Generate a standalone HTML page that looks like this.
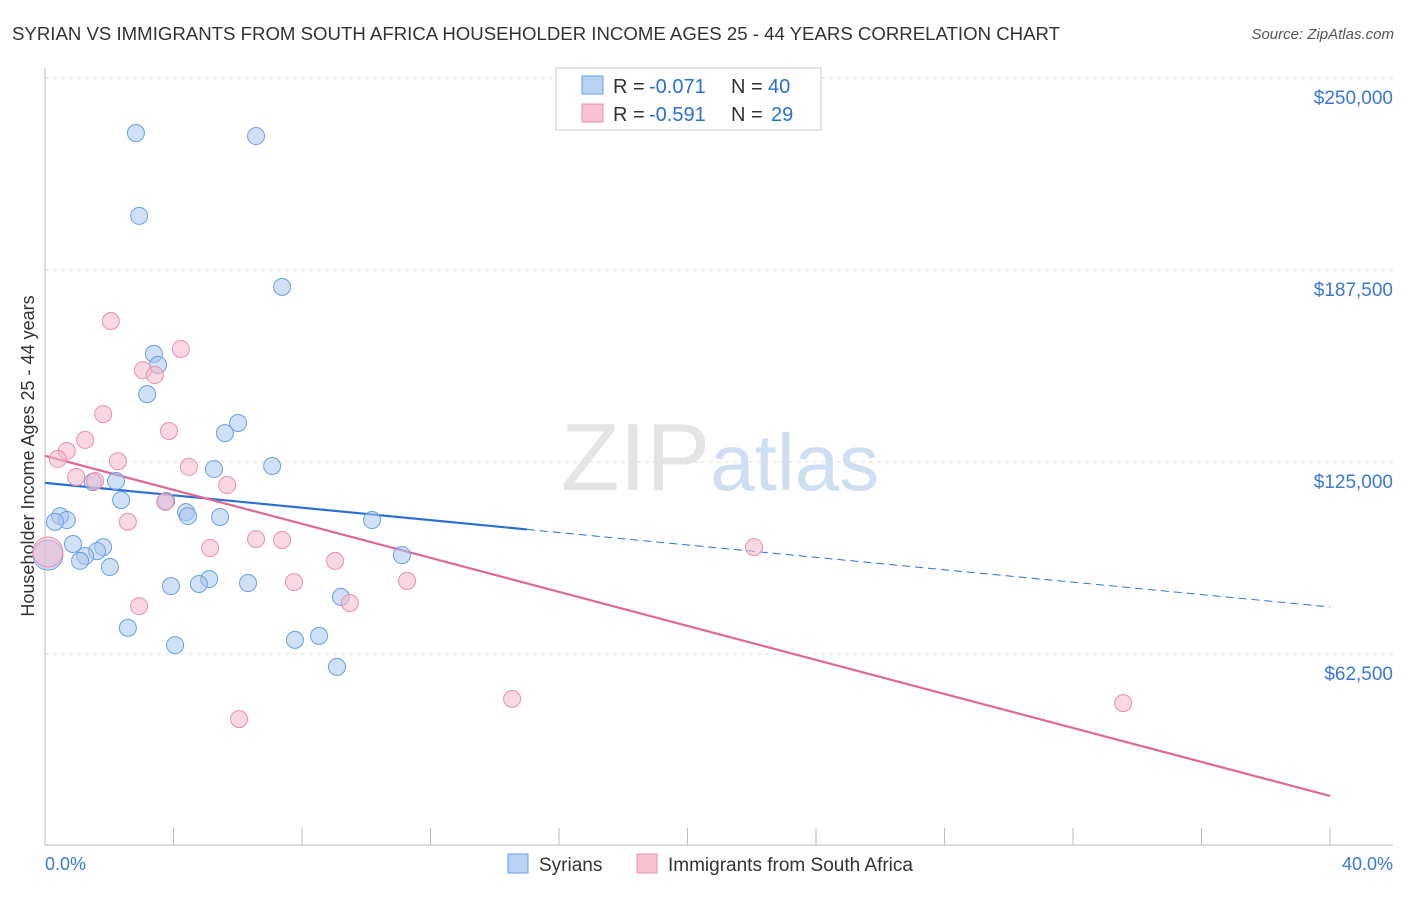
<!DOCTYPE html>
<html><head><meta charset="utf-8">
<style>
body{margin:0;background:#fff;font-family:"Liberation Sans",sans-serif;}
svg text{font-family:"Liberation Sans",sans-serif;}
</style></head>
<body>
<svg id="chart" width="1406" height="892" xmlns="http://www.w3.org/2000/svg">
<text x="12" y="40" font-size="18" fill="#333" textLength="1048" lengthAdjust="spacingAndGlyphs">SYRIAN VS IMMIGRANTS FROM SOUTH AFRICA HOUSEHOLDER INCOME AGES 25 - 44 YEARS CORRELATION CHART</text>
<text x="1394" y="39" font-size="15" fill="#555" text-anchor="end" font-style="italic">Source: ZipAtlas.com</text>
<text x="720" y="490" font-size="96" text-anchor="middle" fill="#e4e4e4" font-family="Liberation Serif, serif">ZIP<tspan fill="#d0def2" font-family="Liberation Sans, sans-serif" font-size="80">atlas</tspan></text>
<g id="grid"></g>
<g id="axes"></g>
<text transform="translate(34,456) rotate(-90)" font-size="18" fill="#333" text-anchor="middle">Householder Income Ages 25 - 44 years</text>
<text x="45" y="870" font-size="18" fill="#3a78d8">0.0%</text>
<text x="1393" y="870" font-size="18" fill="#3a78d8" text-anchor="end">40.0%</text>
<g id="lines"></g>
<g id="points"></g>
<g>
<rect x="556" y="68" width="265" height="62" fill="#fff" stroke="#ccc"/>
<rect x="582" y="76" width="21" height="18" fill="#b8d2f4" stroke="#6b9fe0"/>
<rect x="582" y="104" width="21" height="18" fill="#f8c4d4" stroke="#e890ab"/>
<text x="613" y="93" font-size="20" fill="#333">R =</text>
<text x="649" y="93" font-size="20" fill="#2a6fd6">-0.071</text>
<text x="731" y="93" font-size="20" fill="#333">N =</text>
<text x="768" y="93" font-size="20" fill="#2a6fd6">40</text>
<text x="613" y="121" font-size="20" fill="#333">R =</text>
<text x="649" y="121" font-size="20" fill="#2a6fd6">-0.591</text>
<text x="731" y="121" font-size="20" fill="#333">N =</text>
<text x="771" y="121" font-size="20" fill="#2a6fd6">29</text>
</g>
<g>
<rect x="508" y="854" width="20" height="19" fill="#b8d2f4" stroke="#6b9fe0"/>
<text x="539" y="871" font-size="19" fill="#333">Syrians</text>
<rect x="637" y="854" width="20" height="19" fill="#f8c4d4" stroke="#e890ab"/>
<text x="668" y="871" font-size="19" fill="#333">Immigrants from South Africa</text>
</g>
</svg>
<script>
const yTicks=[62500,125000,187500,250000];
const yTickLabels=["$62,500","$125,000","$187,500","$250,000"];
const xTicks=[0,4,8,12,16,20,24,28,32,36,40];
const blueX=[2.83,6.57,2.93,7.38,3.39,3.52,3.18,6.01,5.60,7.07,5.26,1.49,2.21,2.37,3.77,4.39,4.45,5.45,0.47,0.68,0.31,10.18,0.87,1.81,1.62,1.25,1.09,2.02,0.09,11.11,5.11,4.79,3.92,6.32,9.21,2.58,8.53,7.78,4.05,9.09];
const blueY=[232100,231100,205100,182000,160200,156600,147100,137700,134400,123700,122700,118500,118800,112600,112300,108700,107400,107100,107400,106100,105500,106100,98300,97300,96000,94400,92800,90800,94700,94700,86900,85300,84600,85600,81100,71000,68400,67100,65400,58300];
const pinkX=[2.05,4.23,3.05,3.42,1.81,3.86,1.25,0.68,0.40,2.27,4.48,0.97,1.56,5.67,3.74,2.58,5.14,6.57,7.38,22.07,9.03,7.75,11.27,2.93,9.49,14.54,6.04,33.56,0.09];
const pinkY=[170900,161800,154900,153300,140600,135100,132200,128600,126000,125300,123400,120100,118800,117500,112000,105500,97000,99900,99600,97300,92800,85900,86300,78100,79100,47900,41300,46500,95700];
const blueTrend=[118200,77800], blueSolidEnd=15.0;
const pinkTrend=[127000,16300];
const NS="http://www.w3.org/2000/svg";
const X=v=>45+v/40*1285;
const Y=v=>846-v/62500*192;
function mk(tag,attrs,parent){const e=document.createElementNS(NS,tag);for(const k in attrs)e.setAttribute(k,attrs[k]);document.getElementById(parent).appendChild(e);return e;}
yTicks.forEach((t,i)=>{
 const g=mk('line',{x1:45,x2:1393,y1:Y(t),y2:Y(t),stroke:'#ddd','stroke-dasharray':'4,4'},'grid');
 
 
 const tx=mk('text',{x:1393,y:Y(t)+26,'font-size':19,fill:'#3a78d8','text-anchor':'end'},'grid');
 tx.textContent=yTickLabels[i];
 
 
});
const ax=mk('line',{x1:45,x2:1393,y1:845,y2:845,stroke:'#bbb'},'axes');


const ay=mk('line',{x1:45,x2:45,y1:68,y2:845,stroke:'#bbb'},'axes');


xTicks.forEach(t=>{
 const l=mk('line',{x1:X(t),x2:X(t),y1:828,y2:845,stroke:'#bbb'},'axes');
 
 
});
function pts(xs,ys,fill,stroke,name){
 xs.forEach((x,i)=>{
  const big=x<0.2;
  const c=mk('circle',{cx:X(x),cy:Y(ys[i]),r:big?15:8.5,fill:fill,'fill-opacity':0.55,stroke:stroke,'stroke-width':1},'points');
  
  
 });
}
pts(blueX,blueY,'#a9c7f0','#6b9fe0','point-syrians');
pts(pinkX,pinkY,'#f6b8cc','#e890ab','point-south-africa');
const bv=x=>blueTrend[0]+(blueTrend[1]-blueTrend[0])*x/40;
let l=mk('line',{x1:X(0),y1:Y(bv(0)),x2:X(blueSolidEnd),y2:Y(bv(blueSolidEnd)),stroke:'#2a6fd6','stroke-width':2.2},'lines');


l=mk('line',{x1:X(blueSolidEnd),y1:Y(bv(blueSolidEnd)),x2:X(40),y2:Y(bv(40)),stroke:'#2a6fd6','stroke-width':1,'stroke-dasharray':'8,5'},'lines');


l=mk('line',{x1:X(0),y1:Y(pinkTrend[0]),x2:X(40),y2:Y(pinkTrend[1]),stroke:'#e06896','stroke-width':2.2},'lines');


</script>
</body></html>
